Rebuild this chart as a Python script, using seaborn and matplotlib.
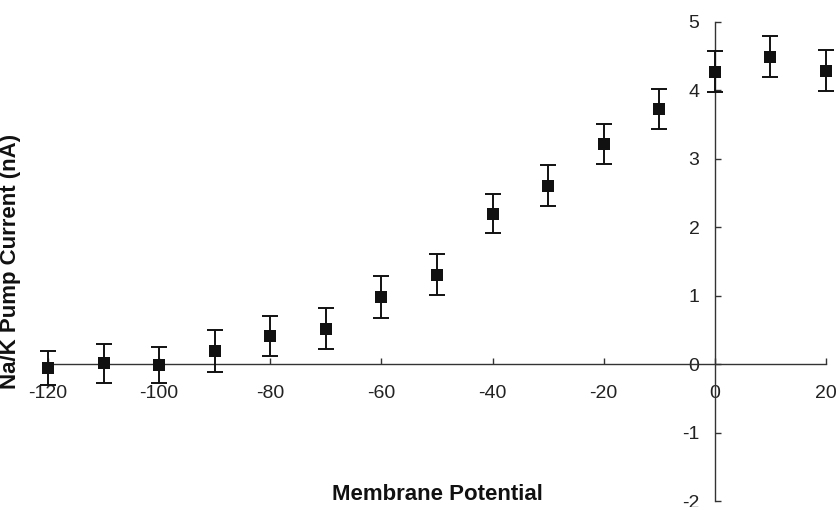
import matplotlib
matplotlib.use("Agg")
import matplotlib.pyplot as plt
import seaborn as sns
import pandas as pd

# membrane potential (mV) and pump current (nA)
potential = [-120, -110, -100, -90, -80, -70, -60, -50, -40, -30, -20, -10, 0, 10, 20]
current = [-0.06, 0.01, -0.01, 0.19, 0.41, 0.52, 0.98, 1.31, 2.20, 2.61, 3.22, 3.73, 4.27, 4.49, 4.29]
error = [0.25, 0.29, 0.26, 0.31, 0.29, 0.30, 0.31, 0.30, 0.29, 0.30, 0.29, 0.29, 0.30, 0.30, 0.30]
x_ticks = [-120, -100, -80, -60, -40, -20, 0, 20]
y_ticks = [-2, -1, 0, 1, 2, 3, 4, 5]

df = pd.DataFrame({"potential": potential, "current": current, "error": error})

sns.set_style("white")
plt.rcParams['font.family'] = ['Liberation Sans', 'DejaVu Sans']
plt.rcParams['axes.unicode_minus'] = False

fig = plt.figure(figsize=(8.38, 5.07), dpi=100)
ax = fig.add_axes([48 / 838, 6 / 507, 778 / 838, 479 / 507])

ax.errorbar(df["potential"], df["current"], yerr=df["error"], fmt="none",
            ecolor="#111111", elinewidth=1.4, capsize=6, capthick=1.4, clip_on=False, zorder=3)
sns.scatterplot(data=df, x="potential", y="current", marker="s", s=85, color="#111111",
                edgecolor="#111111", linewidth=0, ax=ax, clip_on=False, zorder=4)

ax.set_xlim(-120, 20)
ax.set_ylim(-2, 5)
ax.set_xticks(x_ticks)
ax.set_yticks(y_ticks)

ax.spines['left'].set_position(('data', 0))
ax.spines['bottom'].set_position(('data', 0))
ax.spines['top'].set_visible(False)
ax.spines['right'].set_visible(False)
for side in ['left', 'bottom']:
    ax.spines[side].set_color("#333333")
    ax.spines[side].set_linewidth(1.0)

ax.tick_params(axis='x', direction='in', length=4, width=1, color="#333333",
               labelsize=14, labelcolor="#222222", pad=15, bottom=True)
ax.tick_params(axis='y', direction='in', length=4, width=1, color="#333333",
               labelsize=14, labelcolor="#222222", pad=11, left=True)

ax.set_xlabel("Membrane Potential", fontsize=16, fontweight='bold', color="#111111")
ax.set_ylabel("Na/K Pump Current (nA)", fontsize=16, fontweight='bold', color="#111111")
ax.xaxis.set_label_coords(0.5, 0.035)
ax.yaxis.set_label_coords(-0.035, 0.5)

fig.savefig("out.png", dpi=100)
